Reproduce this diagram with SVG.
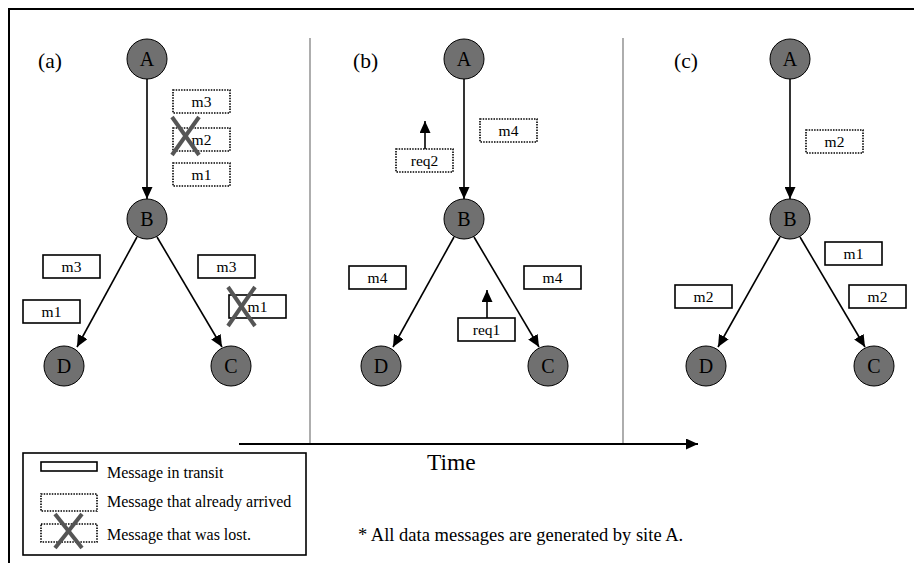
<svg xmlns="http://www.w3.org/2000/svg" width="914" height="563" viewBox="0 0 914 563">
<style>
text{font-family:"Liberation Serif","Times New Roman",serif;fill:#000}
.node circle{fill:#707070;stroke:#000;stroke-width:1}
.node text{font-size:20px;text-anchor:middle}
.msg{fill:#fff;stroke:#000;stroke-width:1.6}
.dot{fill:#fff;stroke:#000;stroke-width:1.6;stroke-dasharray:1.5 1.2}
.lbl{font-size:15.5px;text-anchor:middle}
.edge{stroke:#000;stroke-width:1.6;fill:none;marker-end:url(#ah)}
.req{stroke:#000;stroke-width:1.6;fill:none;marker-end:url(#ah)}
.x{stroke:#555;stroke-width:4;stroke-linecap:butt}
.div{stroke:#777;stroke-width:1.2}
.panel{font-size:21.5px}
.leg{font-size:16px}
</style>
<defs>
<marker id="ah" markerWidth="12" markerHeight="11" refX="12" refY="5.5" orient="auto" markerUnits="userSpaceOnUse">
<path d="M0,0 L12,5.5 L0,11 Z" fill="#000"/>
</marker>
</defs>
<rect x="9" y="9" width="1000" height="1000" fill="#fff" stroke="#000" stroke-width="2"/>
<line class="div" x1="310" y1="38" x2="310" y2="443"/>
<line class="div" x1="623" y1="38" x2="623" y2="443"/>
<g id="time-axis">
<line x1="239" y1="444" x2="698" y2="444" stroke="#000" stroke-width="1.8" marker-end="url(#ah)"/>
<text x="427" y="470" style="font-size:23.5px">Time</text>
</g>
<text class="panel" x="38" y="68">(a)</text>
<text class="panel" x="353" y="68">(b)</text>
<text class="panel" x="674" y="68">(c)</text>
<g id="connectors">
<line class="edge" x1="147" y1="79" x2="147" y2="199"/>
<line class="edge" x1="137" y1="237" x2="77" y2="347"/>
<line class="edge" x1="157" y1="237" x2="222" y2="347"/>
<line class="edge" x1="464" y1="79" x2="464" y2="199"/>
<line class="edge" x1="454" y1="237" x2="393" y2="347"/>
<line class="edge" x1="474" y1="237" x2="539" y2="347"/>
<line class="edge" x1="790" y1="79" x2="790" y2="199"/>
<line class="edge" x1="780" y1="237" x2="718" y2="347"/>
<line class="edge" x1="800" y1="237" x2="865" y2="347"/>
<line class="req" x1="425" y1="149" x2="425" y2="121"/>
<line class="req" x1="487" y1="318" x2="487" y2="290"/>
</g>
<g id="a-A" class="node"><circle cx="147" cy="59" r="20"/><text x="147" y="66">A</text></g>
<g id="a-B" class="node"><circle cx="147" cy="219" r="20"/><text x="147" y="226">B</text></g>
<g id="a-D" class="node"><circle cx="64" cy="366" r="20"/><text x="64" y="373">D</text></g>
<g id="a-C" class="node"><circle cx="231" cy="366" r="20"/><text x="231" y="373">C</text></g>
<g id="b-A" class="node"><circle cx="464" cy="59" r="20"/><text x="464" y="66">A</text></g>
<g id="b-B" class="node"><circle cx="464" cy="219" r="20"/><text x="464" y="226">B</text></g>
<g id="b-D" class="node"><circle cx="381" cy="366" r="20"/><text x="381" y="373">D</text></g>
<g id="b-C" class="node"><circle cx="548" cy="366" r="20"/><text x="548" y="373">C</text></g>
<g id="c-A" class="node"><circle cx="790" cy="59" r="20"/><text x="790" y="66">A</text></g>
<g id="c-B" class="node"><circle cx="790" cy="219" r="20"/><text x="790" y="226">B</text></g>
<g id="c-D" class="node"><circle cx="706" cy="366" r="20"/><text x="706" y="373">D</text></g>
<g id="c-C" class="node"><circle cx="874" cy="366" r="20"/><text x="874" y="373">C</text></g>
<g id="a-msgs">
<rect class="dot" x="173" y="90" width="57" height="23"/><text class="lbl" x="201.5" y="106.5">m3</text>
<rect class="dot" x="173" y="128" width="57" height="23"/><text class="lbl" x="201.5" y="144.5">m2</text>
<line class="x" x1="172" y1="117" x2="199" y2="155"/><line class="x" x1="199" y1="117" x2="172" y2="155"/>
<rect class="dot" x="173" y="163" width="57" height="23"/><text class="lbl" x="201.5" y="179.5">m1</text>
<rect class="msg" x="43" y="255" width="57" height="23"/><text class="lbl" x="71.5" y="271.5">m3</text>
<rect class="msg" x="23" y="300" width="57" height="23"/><text class="lbl" x="51.5" y="316.5">m1</text>
<rect class="msg" x="198" y="255" width="57" height="23"/><text class="lbl" x="226.5" y="271.5">m3</text>
<rect class="msg" x="229" y="295" width="57" height="23"/><text class="lbl" x="257.5" y="311.5">m1</text>
<line class="x" x1="228" y1="287" x2="255" y2="326"/><line class="x" x1="255" y1="287" x2="228" y2="326"/>
</g>
<g id="b-msgs">
<rect class="dot" x="480" y="119" width="57" height="23"/><text class="lbl" x="508.5" y="135.5">m4</text>
<rect class="dot" x="396" y="149" width="57" height="23"/><text class="lbl" x="424.5" y="165.5">req2</text>
<rect class="msg" x="349" y="266" width="57" height="23"/><text class="lbl" x="377.5" y="282.5">m4</text>
<rect class="msg" x="524" y="266" width="57" height="23"/><text class="lbl" x="552.5" y="282.5">m4</text>
<rect class="msg" x="458" y="318" width="57" height="23"/><text class="lbl" x="486.5" y="334.5">req1</text>
</g>
<g id="c-msgs">
<rect class="dot" x="806" y="130" width="57" height="23"/><text class="lbl" x="834.5" y="146.5">m2</text>
<rect class="msg" x="825" y="242" width="57" height="23"/><text class="lbl" x="853.5" y="258.5">m1</text>
<rect class="msg" x="675" y="285" width="57" height="23"/><text class="lbl" x="703.5" y="301.5">m2</text>
<rect class="msg" x="849" y="285" width="57" height="23"/><text class="lbl" x="877.5" y="301.5">m2</text>
</g>
<g id="legend">
<rect x="23" y="453" width="283" height="102" fill="#fff" stroke="#000" stroke-width="1.6"/>
<rect class="msg" x="41" y="462" width="56" height="9"/>
<text class="leg" x="107" y="478">Message in transit</text>
<rect class="dot" x="41" y="494" width="56" height="17"/>
<text class="leg" x="107" y="507">Message that already arrived</text>
<rect class="dot" x="41" y="524" width="56" height="18"/>
<line class="x" x1="55" y1="514" x2="82" y2="548"/><line class="x" x1="82" y1="514" x2="55" y2="548"/>
<text class="leg" x="107" y="540">Message that was lost.</text>
</g>
<text x="358" y="541" style="font-size:18.5px">* All data messages are generated by site A.</text>
</svg>
